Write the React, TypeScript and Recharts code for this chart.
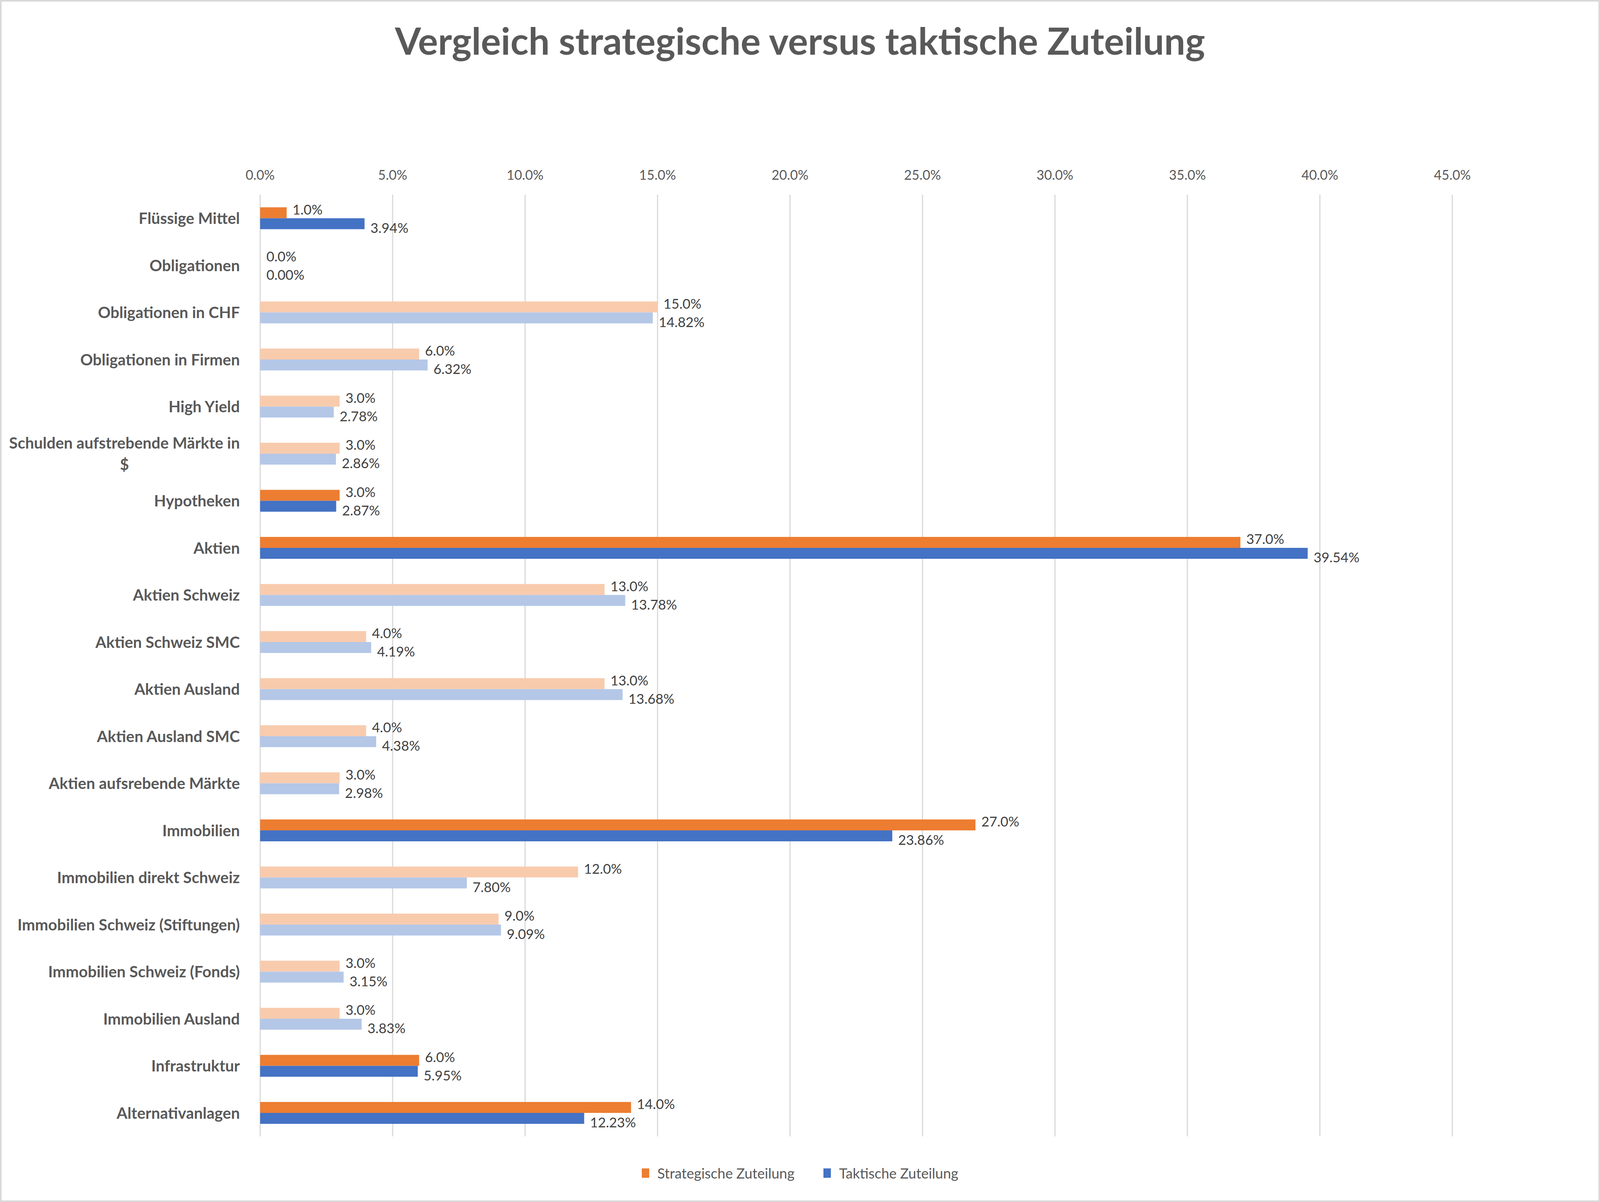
import React from 'react';
import { BarChart, Bar, XAxis, YAxis, CartesianGrid, Legend, LabelList, Cell } from 'recharts';

const FONT = 'Lato, "Open Sans", sans-serif';
// the browser viewport is capped at 4096px width, so the chart is laid out in that box
const W = 4096;
const H = 3076;

const categories = [
  'Flüssige Mittel',
  'Obligationen',
  'Obligationen in CHF',
  'Obligationen in Firmen',
  'High Yield',
  'Schulden aufstrebende Märkte in $',
  'Hypotheken',
  'Aktien',
  'Aktien Schweiz',
  'Aktien Schweiz SMC',
  'Aktien Ausland',
  'Aktien Ausland SMC',
  'Aktien aufsrebende Märkte',
  'Immobilien',
  'Immobilien direkt Schweiz',
  'Immobilien Schweiz (Stiftungen)',
  'Immobilien Schweiz (Fonds)',
  'Immobilien Ausland',
  'Infrastruktur',
  'Alternativanlagen',
];

const strategic = [1.0, 0.0, 15.0, 6.0, 3.0, 3.0, 3.0, 37.0, 13.0, 4.0, 13.0, 4.0, 3.0, 27.0, 12.0, 9.0, 3.0, 3.0, 6.0, 14.0];
const tactical = [3.94, 0.0, 14.82, 6.32, 2.78, 2.86, 2.87, 39.54, 13.78, 4.19, 13.68, 4.38, 2.98, 23.86, 7.8, 9.09, 3.15, 3.83, 5.95, 12.23];

// Hauptkategorien in voller Farbe, Unterkategorien blass
const mainCategories = ['Flüssige Mittel', 'Obligationen', 'Hypotheken', 'Aktien', 'Immobilien', 'Infrastruktur', 'Alternativanlagen'];

const seriesNames = ['Strategische Zuteilung', 'Taktische Zuteilung'];
const xTicks = [0, 5, 10, 15, 20, 25, 30, 35, 40, 45];

const ORANGE = '#ED7D31';
const ORANGE_PALE = '#F8CBAD';
const BLUE = '#4472C4';
const BLUE_PALE = '#B4C7E7';

const data = categories.map((name, i) => ({
  name,
  strategic: strategic[i],
  tactical: tactical[i],
  main: mainCategories.includes(name),
}));

const measure = (txt: string, font: string) => {
  const ctx = document.createElement('canvas').getContext('2d');
  if (!ctx) return txt.length * 20;
  ctx.font = font;
  return ctx.measureText(txt).width;
};

const CategoryTick = (props: any) => {
  const { x, y, payload } = props;
  const label: string = payload.value;
  const size = 40;
  let lines = [label];
  if (label.length > 32) {
    const cut = label.lastIndexOf(' ');
    lines = [label.slice(0, cut), label.slice(cut + 1)];
  }
  const lineH = 55;
  const startY = y - ((lines.length - 1) * lineH) / 2;
  const firstW = measure(lines[0], `700 ${size}px ${FONT}`);
  return (
    <text fill="#595959" fontSize={size} fontWeight={700} fontFamily={FONT} dominantBaseline="central">
      {lines.map((l, i) => (
        <tspan
          key={i}
          x={i === 0 ? x : x - firstW / 2}
          y={startY + i * lineH}
          textAnchor={i === 0 ? 'end' : 'middle'}
        >
          {l}
        </tspan>
      ))}
    </text>
  );
};

// Datenbeschriftung rechts vom Balken, leicht nach oben/unten versetzt wie in Excel
const makeLabel = (digits: number, shift: number) => (props: any) => {
  const { x, y, width, height, value } = props;
  return (
    <text
      x={x + width + 15}
      y={y + height / 2 + shift}
      fill="#404040"
      fontSize={35}
      fontFamily={FONT}
      dominantBaseline="central"
    >
      {`${Number(value).toFixed(digits)}%`}
    </text>
  );
};

const LegendContent = (props: any) => {
  const items = props.payload || [];
  return (
    <div style={{ display: 'flex', justifyContent: 'center', gap: 74, fontFamily: FONT, fontSize: 36, color: '#595959' }}>
      {items.map((it: any) => (
        <div key={it.value} style={{ display: 'flex', alignItems: 'center' }}>
          <span style={{ width: 19, height: 24, background: it.color, display: 'inline-block', marginRight: 21 }} />
          <span>{it.value}</span>
        </div>
      ))}
    </div>
  );
};

export default function App() {
  return (
    <div style={{ position: 'relative', width: W, height: H, background: '#fff' }}>
      <style>{'body{margin:0}'}</style>
      <div
        style={{
          position: 'absolute',
          top: 38,
          left: 0,
          width: W,
          textAlign: 'center',
          fontFamily: FONT,
          fontWeight: 700,
          fontSize: 96,
          color: '#595959',
          lineHeight: '130px',
        }}
      >
        Vergleich strategische versus taktische Zuteilung
      </div>
      <BarChart
        width={W}
        height={H}
        data={data}
        layout="vertical"
        margin={{ top: 438, right: 378, bottom: 38, left: 16 }}
        barCategoryGap="27%"
        barGap={0}
      >
        <CartesianGrid horizontal={false} stroke="#D9D9D9" strokeWidth={3} />
        <XAxis
          type="number"
          orientation="top"
          domain={[0, 45]}
          ticks={xTicks}
          height={60}
          axisLine={false}
          tickLine={false}
          tickSize={0}
          tickMargin={38}
          tickFormatter={(v: number) => `${v.toFixed(1)}%`}
          tick={{ fill: '#595959', fontSize: 34, fontFamily: FONT }}
        />
        <YAxis
          type="category"
          dataKey="name"
          width={650}
          axisLine={false}
          tickLine={false}
          tickSize={0}
          tickMargin={52}
          interval={0}
          tick={<CategoryTick />}
        />
        <Legend
          verticalAlign="bottom"
          content={<LegendContent />}
          wrapperStyle={{ left: 0, width: W, height: 130, paddingTop: 72, boxSizing: 'border-box' }}
        />
        <Bar dataKey="strategic" name={seriesNames[0]} fill={ORANGE} minPointSize={1} isAnimationActive={false}>
          {data.map((d) => (
            <Cell key={d.name} fill={d.strategic === 0 ? 'none' : d.main ? ORANGE : ORANGE_PALE} />
          ))}
          <LabelList dataKey="strategic" content={makeLabel(1, -10)} />
        </Bar>
        <Bar dataKey="tactical" name={seriesNames[1]} fill={BLUE} minPointSize={1} isAnimationActive={false}>
          {data.map((d) => (
            <Cell key={d.name} fill={d.tactical === 0 ? 'none' : d.main ? BLUE : BLUE_PALE} />
          ))}
          <LabelList dataKey="tactical" content={makeLabel(2, 9)} />
        </Bar>
      </BarChart>
      <div
        style={{
          position: 'absolute',
          inset: 0,
          border: '4px solid #D9D9D9',
          pointerEvents: 'none',
        }}
      />
    </div>
  );
}
